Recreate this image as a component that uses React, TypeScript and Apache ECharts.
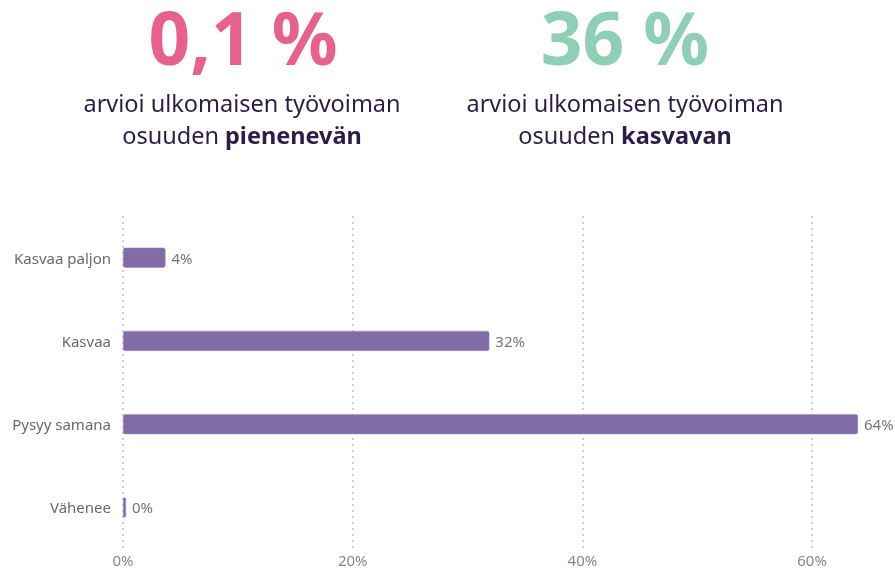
import React, { useEffect, useRef } from "react";
import * as echarts from "echarts";

const categories = ["Kasvaa paljon", "Kasvaa", "Pysyy samana", "Vähenee"];
const values = [3.7, 31.9, 64.0, 0.1];
const headlineLeft = "0,1 %";
const headlineRight = "36 %";
const subLine1 = "arvioi ulkomaisen työvoiman";
const subLeftBold = "pienenevän";
const subRightBold = "kasvavan";

export default function App() {
  const ref = useRef<HTMLDivElement>(null);
  useEffect(() => {
    if (!ref.current) return;
    const chart = echarts.init(ref.current, null, { renderer: "svg" });
    const font = "'Noto Sans', sans-serif";
    const sub = (cx: number, bold: string) => [
      {
        type: "text",
        x: cx,
        y: 103,
        style: { text: subLine1, font: `400 23.5px ${font}`, fill: "#2b1d47", align: "center", verticalAlign: "middle" },
      },
      {
        type: "text",
        x: cx,
        y: 135,
        style: {
          text: `{n|osuuden }{b|${bold}}`,
          align: "center",
          verticalAlign: "middle",
          rich: {
            n: { font: `400 23.5px ${font}`, fill: "#2b1d47" },
            b: { font: `700 23.5px ${font}`, fill: "#2b1d47" },
          },
        },
      },
    ];
    const head = (cx: number, text: string, fill: string) => ({
      type: "text",
      x: cx,
      y: 0,
      style: {
        text,
        font: `700 73px ${font}`,
        lineHeight: 73,
        fill,
        align: "center",
        verticalAlign: "top",
      },
    });
    chart.setOption({
      animation: false,
      graphic: [
        head(243, headlineLeft, "#e8608c"),
        head(625, headlineRight, "#8ecfb6"),
        ...sub(242, subLeftBold),
        ...sub(625, subRightBold),
      ],
      grid: { left: 123, right: 37, top: 216, bottom: 20, containLabel: false },
      xAxis: {
        type: "value",
        min: 0,
        max: 64,
        interval: 20,
        axisLine: { show: false },
        axisTick: { show: false },
        axisLabel: {
          formatter: "{value}%",
          color: "#888",
          fontSize: 15,
          fontFamily: font,
          margin: 3,
          showMaxLabel: false,
        },
        splitLine: { show: true, showMaxLine: false, lineStyle: { color: "#d0d0d0", type: [2, 4], width: 2 } },
      },
      yAxis: {
        type: "category",
        data: categories,
        inverse: true,
        axisLine: { show: false },
        axisTick: { show: false },
        axisLabel: { color: "#6a6a6a", fontSize: 15, fontFamily: font, margin: 12 },
      },
      series: [
        {
          type: "bar",
          data: values,
          barWidth: 20,
          barMinHeight: 3,
          itemStyle: { color: "#826ca8", borderRadius: 2, borderColor: "#9c8bbd", borderWidth: 0.5 },
          label: {
            show: true,
            position: "right",
            distance: 6,
            color: "#777",
            fontSize: 15,
            fontFamily: font,
            formatter: (p: any) => `${Math.round(p.value)}%`,
          },
        },
      ],
    });
    return () => chart.dispose();
  }, []);
  return <div ref={ref} style={{ position: "fixed", left: 0, top: 0, width: 895, height: 569 }} />;
}
